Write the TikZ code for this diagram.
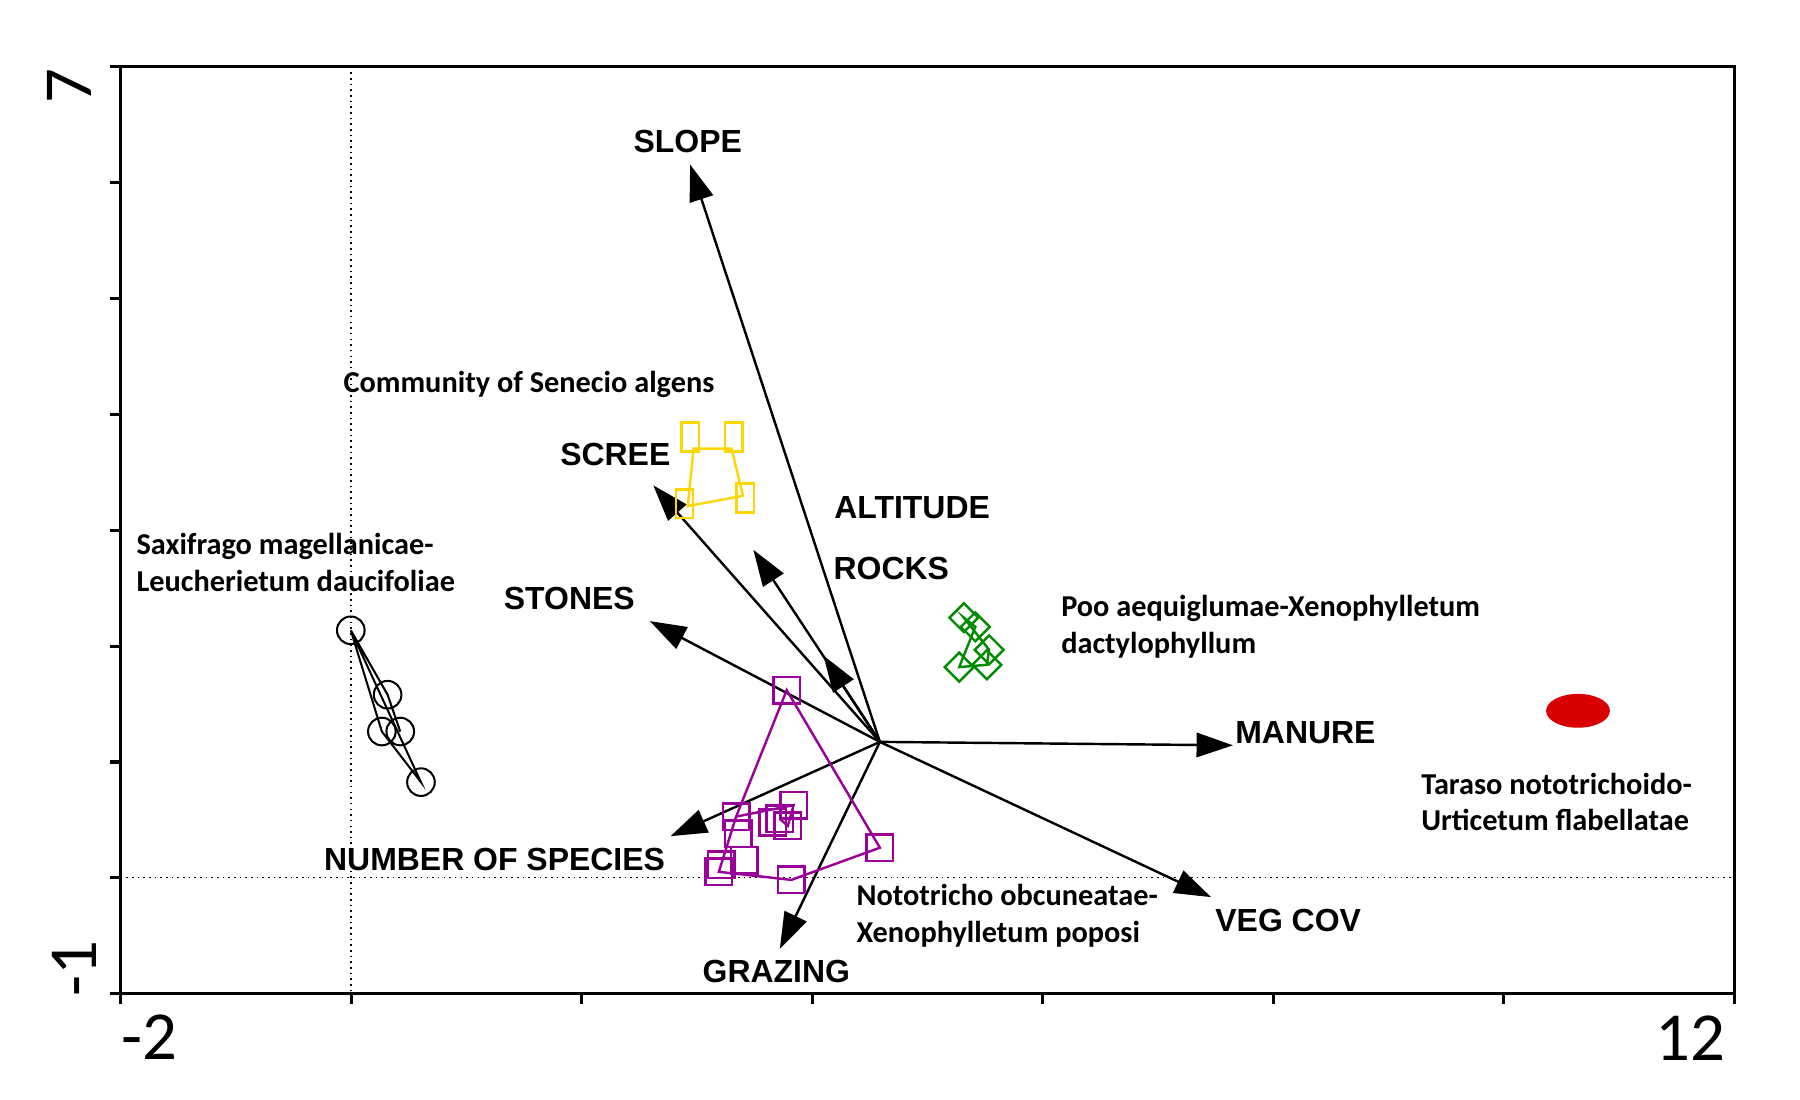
\documentclass[tikz,border=0pt]{standalone}
\usepackage{fontspec}
\setmainfont{Liberation Sans}
\newfontfamily\carfont{Carlito}
\usetikzlibrary{arrows.meta,shapes.geometric}
\begin{document}
\begin{tikzpicture}[x=0.01cm,y=-0.01cm,
  vec/.style={-{Triangle[length=9pt,width=6pt]},line width=0.6pt},
  vlab/.style={font=\fontsize{7.9}{8.5}\selectfont\bfseries},
  glab/.style={font=\carfont\fontsize{7.5}{9}\selectfont\bfseries,align=left,anchor=west,inner sep=0pt},
  ax/.style={font=\carfont\fontsize{17}{18}\selectfont},
  circ/.style={circle,draw,inner sep=0pt,minimum size=0.24cm,line width=0.5pt},
  ysq/.style={rectangle,draw=yellow!75!orange,inner sep=0pt,minimum width=0.15cm,minimum height=0.25cm,line width=0.6pt},
  gdi/.style={diamond,draw=green!55!black,inner sep=0pt,minimum size=0.26cm,line width=0.6pt},
  psq/.style={rectangle,draw=violet!80!magenta,inner sep=0pt,minimum size=0.23cm,line width=0.6pt}]
\useasboundingbox (0,0) rectangle (1565,956);
\draw[line width=0.8pt] (105,58) rectangle (1508,864);
\foreach \y in {58,158.75,...,864} \draw[line width=0.8pt] (96,\y) -- (105,\y);
\foreach \x in {105,305.4,...,1508} \draw[line width=0.8pt] (\x,864) -- (\x,873);
\draw[densely dotted,line width=0.4pt] (305,58) -- (305,864);
\draw[densely dotted,line width=0.4pt] (105,763) -- (1508,763);
\node[ax,rotate=90] at (60,75) {7};
\node[ax,rotate=90] at (65,842) {-1};
\node[ax] at (130,902) {-2};
\node[ax] at (1470,903) {12};
% vectors
\coordinate (o) at (765,645);
\coordinate (eSlope) at (600,143);
\coordinate (eScree) at (568,422);
\coordinate (eAlt) at (655,478);
\coordinate (eRocks) at (716,570);
\coordinate (eStones) at (565,540);
\coordinate (eManure) at (1072,648);
\coordinate (eVeg) at (1053,780);
\coordinate (eGraz) at (678,825);
\coordinate (eNum) at (583,727);
\foreach \e in {eSlope,eScree,eAlt,eRocks,eStones,eManure,eVeg,eGraz,eNum} \draw[vec] (o) -- (\e);
\node[vlab] (lSlope) at (598,123) {SLOPE};
\node[vlab] (lScree) at (535,395) {SCREE};
\node[vlab] (lAlt) at (793,441) {ALTITUDE};
\node[vlab] (lRocks) at (775,494) {ROCKS};
\node[vlab] (lStones) at (495,520) {STONES};
\node[vlab] (lManure) at (1135,637) {MANURE};
\node[vlab] (lVeg) at (1120,800) {VEG COV};
\node[vlab] (lGraz) at (675,845) {GRAZING};
\node[vlab] (lNum) at (430,747) {NUMBER OF SPECIES};
% black circles
\node[circ] (c1) at (305,548) {};
\node[circ] (c2) at (337,604) {};
\node[circ] (c3) at (332,636) {};
\node[circ] (c4) at (348,636) {};
\node[circ] (c5) at (366,680) {};
\draw[line width=0.5pt] (c1.center) -- (c5.center) -- (c3.center) -- (c1.center) (c1.center) -- (c2.center) -- (c4.center);
% yellow
\node[ysq] (y1) at (600,380) {};
\node[ysq] (y2) at (638,380) {};
\node[ysq] (y3) at (648,433) {};
\node[ysq] (y4) at (595,438) {};
\draw[yellow!75!orange,line width=0.6pt] (603,390) -- (636,390) -- (646,431) -- (598,440) -- cycle;
% green
\node[gdi] (g1) at (838,537) {};
\node[gdi] (g2) at (848,545) {};
\node[gdi] (g3) at (860,565) {};
\node[gdi] (g4) at (834,580) {};
\node[gdi] (g5) at (858,578) {};
\draw[green!55!black,line width=0.6pt] (g1.center) -- (g3.center) -- (g5.center) -- (g4.center) -- (g2.center) -- cycle;
% purple
\node[psq] (p1) at (684,600) {};
\node[psq] (p2) at (765,737) {};
\node[psq] (p3) at (688,765) {};
\node[psq] (p4) at (625,758) {};
\node[psq] (p5) at (647,748) {};
\node[psq] (p6) at (640,710) {};
\node[psq] (p7) at (690,700) {};
\node[psq] (p8) at (678,712) {};
\node[psq] (p9) at (685,718) {};
\node[psq] (p10) at (672,715) {};
\node[psq] (p11) at (642,725) {};
\node[psq] (p12) at (627,752) {};
\draw[violet!80!magenta,line width=0.6pt] (p1.center) -- (p2.center) -- (p3.center) -- (p4.center) -- (p6.center) -- cycle;
\draw[violet!80!magenta,line width=0.6pt] (p6.center) -- (p7.center) -- (p9.center) -- (p8.center);
% red
\node[ellipse,fill=red!85!black,draw=red!85!black,minimum width=0.54cm,minimum height=0.28cm,inner sep=0pt] (r) at (1372,618) {};
% group labels
\node[glab] (gComm) at (298,334) {Community of Senecio algens};
\node[glab] (gSax) at (118,489) {Saxifrago magellanicae-\\Leucherietum daucifoliae};
\node[glab] (gPoo) at (922,545) {Poo aequiglumae-Xenophylletum\\dactylophyllum};
\node[glab] (gTar) at (1235,697) {Taraso nototrichoido-\\Urticetum flabellatae};
\node[glab] (gNot) at (744,796) {Nototricho obcuneatae-\\Xenophylletum poposi};
\end{tikzpicture}
\end{document}
